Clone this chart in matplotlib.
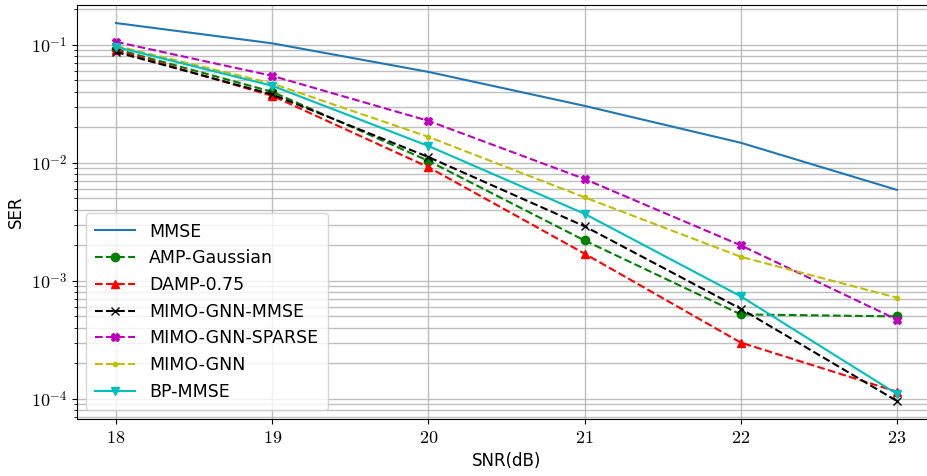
import matplotlib as mpl
import matplotlib.pyplot as plt

mpl.use("Agg")
plt.rcParams["mathtext.fontset"] = "cm"

snr_db = [18, 19, 20, 21, 22, 23]

mmse = [0.153, 0.103, 0.059, 0.0304, 0.0148, 0.0059]
amp_gaussian = [0.092, 0.040, 0.0104, 0.0022, 0.00052, 0.00050]
damp_075 = [0.090, 0.037, 0.0092, 0.0017, 0.00030, 0.000115]
gnn_mmse = [0.087, 0.038, 0.0112, 0.0029, 0.00058, 0.000096]
gnn_sparse = [0.106, 0.0546, 0.0227, 0.0073, 0.0020, 0.00047]
gnn = [0.098, 0.047, 0.0166, 0.0051, 0.0016, 0.00072]
bp_mmse = [0.096, 0.045, 0.0139, 0.0037, 0.00074, 0.00011]

ytick_vals = [1e-1, 1e-2, 1e-3, 1e-4]
ytick_labels = [r"$10^{-1}$", r"$10^{-2}$", r"$10^{-3}$", r"$10^{-4}$"]

fig = plt.figure(figsize=(9.28, 4.76), dpi=100)
# right edge of the axes runs past the figure, as in the cropped original
ax = fig.add_axes([0.083, 0.12, 0.9256, 0.8697])

ax.plot(snr_db, mmse, color="#1f77b4", linestyle="-", lw=1.5, label="MMSE")
ax.plot(snr_db, amp_gaussian, "g--o", lw=1.5, ms=6, label="AMP-Gaussian")
ax.plot(snr_db, damp_075, "r--^", lw=1.5, ms=6, label="DAMP-0.75")
ax.plot(snr_db, gnn_mmse, "k--x", lw=1.5, ms=6, label="MIMO-GNN-MMSE")
ax.plot(snr_db, gnn_sparse, "m--X", lw=1.5, ms=6, label="MIMO-GNN-SPARSE")
ax.plot(snr_db, gnn, "y--.", lw=1.5, ms=6, label="MIMO-GNN")
ax.plot(snr_db, bp_mmse, "c-v", lw=1.5, ms=6, label="BP-MMSE")

ax.set_yscale("log")
ax.set_xlim(17.75, 23.25)
ax.set_ylim(6.77e-5, 0.218)
ax.set_yticks(ytick_vals)
ax.set_yticklabels(ytick_labels)
ax.set_xticks(snr_db)
ax.set_xticklabels([rf"${v}$" for v in snr_db])
ax.tick_params(axis="both", which="major", labelsize=13)

ax.grid(True, which="both", color="#b0b0b0", lw=1.0, alpha=0.8)
ax.set_xlabel("SNR(dB)", fontsize=12)
ax.set_ylabel("SER", fontsize=12)
ax.legend(loc="lower left", fontsize=12.5, handlelength=2.3, borderpad=0.55)

fig.savefig("out.png", dpi=100)
plt.close(fig)
